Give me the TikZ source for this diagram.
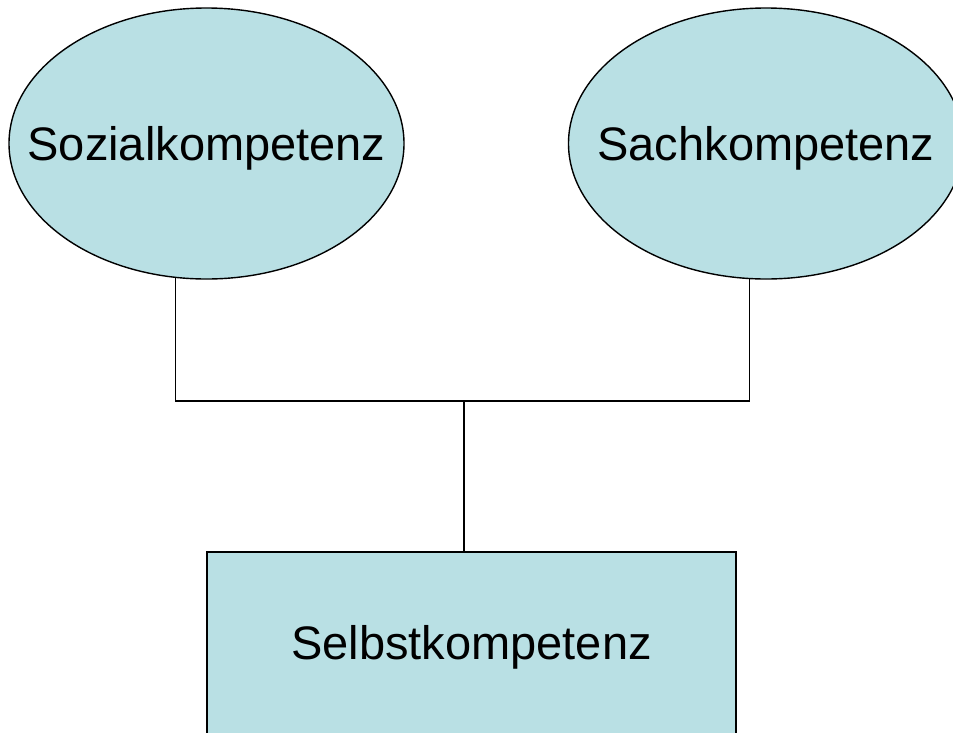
\documentclass[tikz,border=0pt]{standalone}
\usepackage{fontspec}
\setmainfont{Liberation Sans}
\usetikzlibrary{shapes.geometric}
\definecolor{boxfill}{RGB}{185,224,228}
\begin{document}
\begin{tikzpicture}[x=1pt,y=-1pt,
  oval/.style={ellipse,draw=black,line width=1.4pt,fill=boxfill,inner sep=0pt,
    minimum width=395pt,minimum height=271pt},
  rectbox/.style={rectangle,draw=black,line width=2pt,fill=boxfill,inner sep=0pt,
    minimum width=529pt,minimum height=193pt},
  txt/.style={font=\fontsize{47}{56}\selectfont,inner sep=0pt,text height=34pt,text depth=10pt},
  wire/.style={draw=black,line width=1.4pt}]
\useasboundingbox (0,0) rectangle (953,732);
\clip (0,0) rectangle (953,732);
\node[oval,label={[txt,yshift=-4.5pt,name=sozt]center:Sozialkompetenz}] (soz) at (206.5,143.5) {};
\node[oval,label={[txt,yshift=-5pt,name=sacht]center:Sachkompetenz}] (sach) at (766,143.5) {};
\node[rectbox,label={[txt,yshift=1.5pt,name=selbt]center:Selbstkompetenz}] (selb) at (471.5,648.5) {};
\coordinate (j) at (464,401);
\draw[wire] (soz.257.6) |- (j) -| (sach.263.7);
\draw[wire] (j) -- (j |- selb.north);
\end{tikzpicture}
\end{document}
